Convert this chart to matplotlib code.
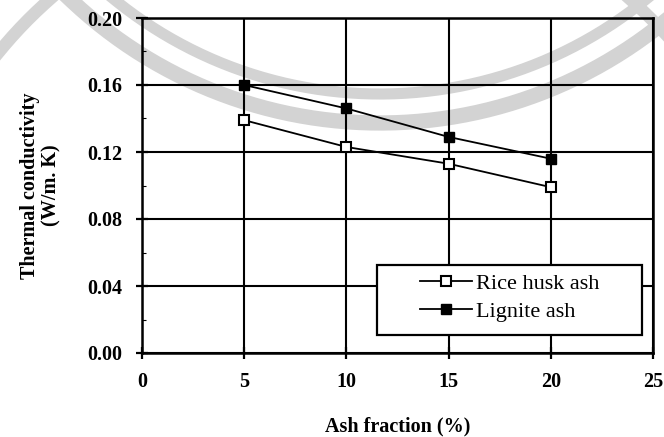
import numpy as np
import matplotlib.pyplot as plt
from matplotlib.patches import Rectangle
from matplotlib.ticker import MultipleLocator

ash = [5, 10, 15, 20]
rice_husk = [0.139, 0.123, 0.113, 0.099]
lignite = [0.160, 0.146, 0.129, 0.116]

xticks = [0, 5, 10, 15, 20, 25]
yticks = [0.00, 0.04, 0.08, 0.12, 0.16, 0.20]

plt.rcParams['font.family'] = ['Liberation Serif', 'DejaVu Serif']

W, H = 664, 437
fig = plt.figure(figsize=(W / 100, H / 100), dpi=100)

# faint scanned watermark rings (pixel space overlay)
wm = fig.add_axes([0, 0, 1, 1], zorder=-1)
wm.set_xlim(0, W)
wm.set_ylim(H, 0)
wm.axis('off')
t = np.linspace(0, 2 * np.pi, 720)
for cx, cy, r, lw in [(340, 330, 440, 9), (380, -327, 450, 11), (380, -327, 421, 8)]:
    wm.plot(cx + r * np.cos(t), cy + r * np.sin(t), color='#d3d3d3', lw=lw)

ax = fig.add_axes([142 / W, 1 - 353 / H, 511 / W, 335 / H])
ax.set_facecolor('none')
ax.plot(ash, rice_husk, '-s', color='black', lw=1.3, ms=7.5, mfc='white',
        mec='black', mew=1.5, label='Rice husk ash', zorder=4)
ax.plot(ash, lignite, '-s', color='black', lw=1.3, ms=7.5, mfc='black',
        mec='black', label='Lignite ash', zorder=4)

ax.set_xlim(0, 25)
ax.set_ylim(0, 0.20)
ax.set_xticks(xticks)
ax.set_yticks(yticks)
ax.set_xticklabels([str(v) for v in xticks], fontweight='bold', fontsize=14.5)
ax.set_yticklabels(['%.2f' % v for v in yticks], fontweight='bold', fontsize=14.5)
ax.yaxis.set_minor_locator(MultipleLocator(0.02))
ax.tick_params(axis='both', which='major', direction='inout', length=9,
               width=1.6, pad=9.5)
ax.tick_params(axis='y', which='minor', direction='in', length=3, width=0.8)
ax.grid(True, which='major', color='black', lw=1.5)
for s in ax.spines.values():
    s.set_linewidth(1.8)

ax.set_xlabel('Ash fraction (%)', fontweight='bold', fontsize=14.5, labelpad=17)
ax.set_ylabel('Thermal conductivity\n(W/m. K)', fontweight='bold',
              fontsize=14.5, labelpad=19, linespacing=1.1)

# legend box
ax.add_patch(Rectangle((0.460, 0.055), 0.519, 0.209, transform=ax.transAxes,
                       facecolor='white', edgecolor='black', lw=1.6, zorder=5))
leg = ax.legend(loc='center', bbox_to_anchor=(0.719, 0.166), fontsize=16,
                frameon=False, handlelength=2.35, handletextpad=0.18,
                labelspacing=0.35, borderpad=0)
leg.set_zorder(6)

fig.savefig('out.png', dpi=100)
